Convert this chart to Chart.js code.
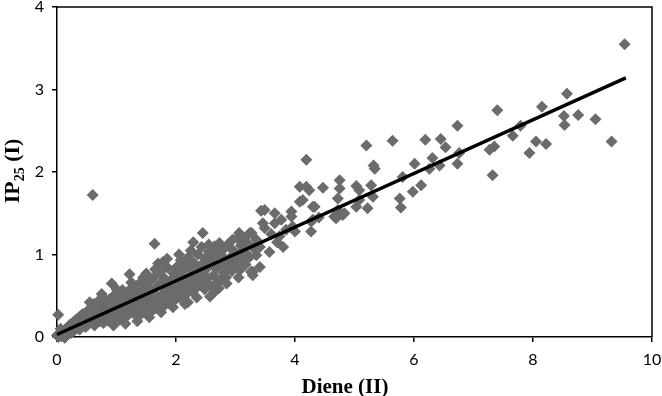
<!DOCTYPE html>
<html><head><meta charset="utf-8">
<script src="https://cdn.jsdelivr.net/npm/chart.js@4/dist/chart.umd.min.js"></script>
<style>html,body{margin:0;padding:0;background:#fff}#wrap{width:662px;height:396px}</style>
</head><body><div id="wrap"><canvas id="c" width="662" height="396"></canvas></div>
<script>
// Diene (II) values
const dieneX = [
0.02,0.60,
0.00,0.03,0.05,0.08,0.10,0.12,0.15,0.17,0.18,0.20,0.22,0.24,0.25,0.27,0.29,0.30,0.32,0.34,0.35,0.37,0.38,0.40,0.42,0.43,0.45,0.47,0.48,0.50,0.06,0.13,
0.52,0.55,0.57,0.58,0.60,0.62,0.63,0.65,0.67,0.68,0.70,0.72,0.74,0.75,0.77,0.78,0.80,0.82,0.83,0.85,0.87,0.88,0.90,0.92,0.93,0.95,0.97,0.98,1.00,1.02,1.03,1.05,1.07,1.08,1.10,1.12,1.13,1.15,1.17,1.18,1.20,1.22,1.23,1.25,1.27,1.28,1.30,1.32,1.33,1.35,1.37,1.38,1.40,1.42,1.43,1.45,1.47,1.48,1.50,1.50,
1.52,1.54,1.56,1.57,1.59,1.60,1.62,1.64,1.64,1.66,1.68,1.70,1.70,1.72,1.74,1.75,1.77,1.78,1.79,1.81,1.83,1.85,1.86,1.88,1.90,1.90,1.92,1.94,1.96,1.97,1.99,2.01,2.02,2.04,2.06,2.08,2.09,2.11,2.12,2.14,2.16,2.17,2.19,2.20,2.21,2.23,2.24,2.26,2.28,2.29,2.30,2.32,2.34,2.35,2.37,2.39,2.40,2.42,2.43,2.45,2.46,2.48,2.49,
2.51,2.53,2.55,2.57,2.58,2.60,2.62,2.63,2.65,2.67,2.68,2.70,2.72,2.73,2.75,2.76,2.78,2.80,2.82,2.84,2.85,2.87,2.89,2.90,2.92,2.94,2.95,2.97,2.99,3.01,3.03,3.05,3.06,3.07,3.09,3.11,3.13,3.15,3.17,3.19,3.21,3.24,3.24,3.26,3.27,3.29,3.30,
3.35,3.35,3.41,3.41,3.29,3.43,3.46,3.49,3.49,3.57,3.60,3.66,3.66,3.70,3.74,3.77,3.80,3.85,3.94,3.94,3.96,4.00,4.08,4.08,4.13,4.19,4.19,4.24,4.27,4.27,4.30,4.30,4.33,
4.47,4.40,4.66,4.69,4.72,4.72,4.75,4.75,4.80,4.83,5.03,5.03,5.08,5.20,5.22,5.28,5.31,5.32,5.34,5.08,
5.64,5.76,5.78,5.81,5.98,6.01,6.12,6.19,6.26,6.31,6.43,6.45,6.53,6.73,6.73,6.76,7.27,7.32,7.35,7.40,7.66,7.79,7.94,8.05,8.15,8.22,8.52,8.53,8.57,8.76,9.05,9.32,9.54,
1.85,2.05,2.25,2.55,2.35,2.15,1.95,1.75,1.55,1.35,1.15,0.95,2.65,2.85,3.05,1.00,1.25,1.45,1.65,0.75,0.55
];
// IP25 (I) values
const ip25Y = [
0.27,1.72,
0.02,0.00,0.04,0.01,0.06,0.03,0.09,0.04,0.12,0.07,0.15,0.05,0.10,0.18,0.08,0.13,0.21,0.11,0.16,0.24,0.09,0.19,0.13,0.28,0.17,0.22,0.12,0.31,0.10,-0.01,
0.15,0.25,0.35,0.18,0.30,0.40,0.14,0.22,0.33,0.27,0.44,0.19,0.37,0.29,0.48,0.17,0.24,0.41,0.33,0.20,0.45,0.28,0.37,0.65,0.22,0.50,0.31,0.42,0.26,0.53,0.36,0.21,0.46,0.30,0.57,0.39,0.24,0.50,0.33,0.44,0.27,0.76,0.58,0.38,0.49,0.29,0.62,0.42,0.33,0.54,0.25,0.47,0.66,0.36,0.57,0.30,0.50,0.41,0.77,0.60,
0.33,0.46,0.29,0.68,0.38,0.55,0.43,1.13,0.73,0.35,0.61,0.89,0.48,0.40,0.79,0.66,0.52,0.91,0.37,0.71,0.45,0.58,0.84,0.41,0.57,0.68,0.67,0.50,0.77,0.44,0.62,0.85,0.55,0.73,0.48,0.93,0.64,0.80,0.49,0.58,0.88,0.70,0.53,0.42,0.97,0.85,0.63,0.76,0.55,1.15,0.90,0.68,0.81,0.60,1.00,0.72,0.65,0.87,1.09,1.26,0.77,0.58,0.95,
0.70,0.84,1.03,0.49,0.62,0.92,0.95,0.75,1.10,0.83,0.66,1.00,0.59,1.14,0.69,0.88,1.05,0.78,0.95,0.72,0.89,1.12,0.84,1.09,0.97,0.80,1.18,0.91,1.03,0.86,1.20,0.99,1.26,0.81,1.11,0.93,1.05,1.19,0.88,1.00,1.13,1.26,0.97,0.79,1.26,0.75,1.08,
1.18,0.99,1.09,0.85,0.79,1.53,1.38,1.54,1.32,1.03,1.25,1.50,1.38,1.15,1.22,1.42,1.09,1.30,1.52,1.46,1.34,1.28,1.64,1.82,1.66,2.15,1.82,1.78,1.40,1.28,1.58,1.42,1.58,
1.81,1.45,1.46,1.44,1.68,1.54,1.90,1.80,1.48,1.50,1.83,1.58,1.78,2.32,1.56,1.84,1.70,2.08,2.04,1.66,
2.38,1.68,1.57,1.94,1.76,2.10,1.84,2.39,2.04,2.17,2.08,2.40,2.30,2.56,2.10,2.23,2.27,1.96,2.31,2.75,2.44,2.56,2.23,2.37,2.79,2.34,2.68,2.57,2.95,2.69,2.64,2.37,3.55,
0.95,1.00,1.05,1.12,0.48,0.40,0.36,0.30,0.24,0.19,0.16,0.14,0.55,0.65,0.72,0.58,0.66,0.72,0.82,0.52,0.42
];
// regression line end points
const fitX = [0, 9.56];
const fitY = [0.03, 3.14];
// axes
const xMin = 0, xMax = 10, xStep = 2;
const yMin = 0, yMax = 4, yStep = 1;
const xTitle = 'Diene (II)';
const yTitleMain = 'IP', yTitleSub = '25', yTitleEnd = ' (I)';

const points = dieneX.map((x, i) => ({x: x, y: ip25Y[i]}));
const fitLine = fitX.map((x, i) => ({x: x, y: fitY[i]}));

const framePlugin = {
  id: 'frame',
  afterDraw(chart) {
    const ctx = chart.ctx, a = chart.chartArea;
    ctx.save();
    ctx.strokeStyle = '#000';
    ctx.lineWidth = 1.5;
    ctx.beginPath();
    ctx.moveTo(a.left, a.top);
    ctx.lineTo(a.right, a.top);
    ctx.lineTo(a.right, a.bottom);
    ctx.stroke();
    // x title
    ctx.fillStyle = '#000';
    ctx.font = 'bold 21px "Liberation Serif", "Times New Roman", serif';
    ctx.textAlign = 'center';
    ctx.textBaseline = 'alphabetic';
    ctx.fillText(xTitle, 345, 393);
    // y title with subscript
    const fMain = 'bold 22px "Liberation Serif", "Times New Roman", serif';
    const fSub = 'bold 14px "Liberation Serif", "Times New Roman", serif';
    ctx.font = fMain; const w1 = ctx.measureText(yTitleMain).width;
    ctx.font = fSub; const w2 = ctx.measureText(yTitleSub).width;
    ctx.font = fMain; const w3 = ctx.measureText(yTitleEnd).width;
    const total = w1 + w2 + w3;
    ctx.translate(19, 171);
    ctx.rotate(-Math.PI / 2);
    ctx.textAlign = 'left';
    let x0 = -total / 2;
    ctx.font = fMain; ctx.fillText(yTitleMain, x0, 0);
    ctx.font = fSub; ctx.fillText(yTitleSub, x0 + w1, 5);
    ctx.font = fMain; ctx.fillText(yTitleEnd, x0 + w1 + w2, 0);
    ctx.restore();
  }
};

const tickFont = {family: 'Lato, "Open Sans", sans-serif', size: 16};

new Chart(document.getElementById('c'), {
  data: {
    datasets: [
      {
        type: 'line',
        data: fitLine,
        borderColor: '#000',
        borderWidth: 3.5,
        pointRadius: 0,
        fill: false,
        order: 0,
        clip: false
      },
      {
        type: 'scatter',
        data: points,
        pointStyle: 'rectRot',
        pointRadius: 6,
        pointHoverRadius: 6,
        backgroundColor: '#6b6b6b',
        borderColor: '#6b6b6b',
        borderWidth: 0,
        order: 1,
        clip: false
      }
    ]
  },
  options: {
    responsive: false,
    animation: false,
    devicePixelRatio: 1,
    events: [],
    layout: {padding: {left: 0, top: 7, right: 10, bottom: 0}},
    plugins: {legend: {display: false}, tooltip: {enabled: false}},
    scales: {
      x: {
        type: 'linear', min: xMin, max: xMax,
        ticks: {stepSize: xStep, color: '#000', font: tickFont, padding: 8, maxRotation: 0},
        grid: {drawOnChartArea: false, drawTicks: true, tickLength: 5, color: '#000', lineWidth: 1.5},
        border: {display: true, color: '#000', width: 1.5},
        afterFit(s) { s.height = 59; s.paddingLeft = 0; s.paddingRight = 0; }
      },
      y: {
        type: 'linear', min: yMin, max: yMax,
        ticks: {stepSize: yStep, color: '#000', font: tickFont, padding: 8},
        grid: {drawOnChartArea: false, drawTicks: true, tickLength: 5, color: '#000', lineWidth: 1.5},
        border: {display: true, color: '#000', width: 1.5},
        afterFit(s) { s.width = 57; s.paddingTop = 0; s.paddingBottom = 0; }
      }
    }
  },
  plugins: [framePlugin]
});
</script>
</body></html>
